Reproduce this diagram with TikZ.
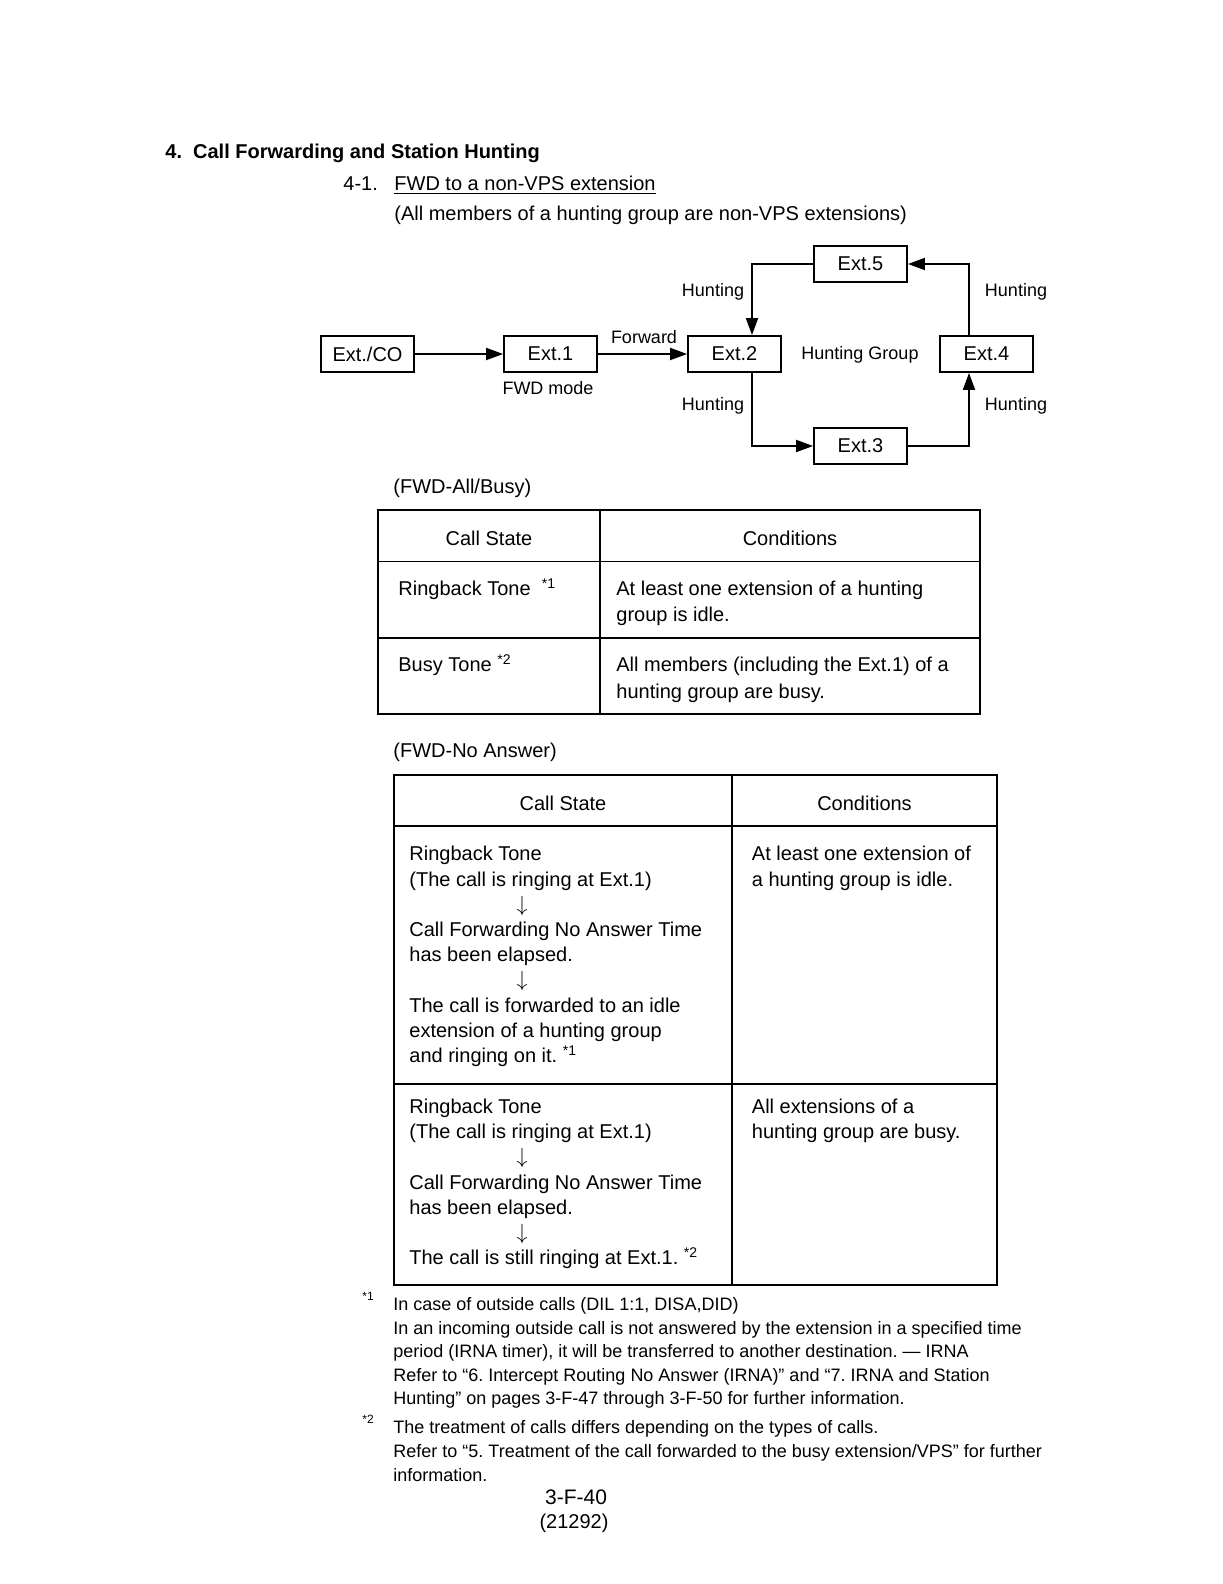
\documentclass[tikz,border=0pt]{standalone}
\usepackage{fontspec}
\setmainfont{Liberation Sans}
\usetikzlibrary{arrows.meta,positioning,calc}
\frenchspacing

\tikzset{
  extbox/.style={draw,line width=0.9pt,minimum width=46.5pt,minimum height=18pt,inner sep=0pt,font=\fontsize{10}{12}\selectfont},
  lbl/.style={inner sep=0pt,font=\fontsize{9}{11}\selectfont},
  txt/.style={inner sep=0pt,anchor=west,text height=7.5pt,text depth=2pt,font=\fontsize{10}{12}\selectfont},
  note/.style={txt,font=\fontsize{9}{11}\selectfont},
  flow/.style={line width=0.9pt,-{Triangle[length=8.5pt,width=6pt]}},
  rule/.style={line width=0.8pt}
}

\begin{document}
\begin{tikzpicture}[x=0.5pt,y=-0.5pt]
  \useasboundingbox (0,0) rectangle (1222,1584); % ページ全体の大きさ（px単位）

  % 見出し
  \node[txt,font=\fontsize{10}{12}\selectfont\bfseries] (title) at (165,153) {4.\ \ Call Forwarding and Station Hunting};
  \node[txt] (secno) at (343,185) {4-1.};
  \node[txt] (sec) at (394,185) {\underline{FWD to a non-VPS extension}};
  \node[txt] (secnote) at (394,215) {(All members of a hunting group are non-VPS extensions)};

  % 転送とハンティングの図
  \node[extbox] (extco) at (367.5,354) {Ext./CO};
  \node[extbox] (ext1) at (550.5,354) {Ext.1};
  \node[extbox] (ext2) at (734.5,354) {Ext.2};
  \node[extbox] (ext4) at (986.5,354) {Ext.4};
  \node[extbox] (ext5) at (860.5,264) {Ext.5};
  \node[extbox] (ext3) at (860.5,446) {Ext.3};
  \coordinate (lft) at (752,0); % 左側の縦線の位置
  \coordinate (rgt) at (969,0); % 右側の縦線の位置
  \draw[flow] (extco) -- (ext1);
  \draw[flow] (ext1) -- (ext2);
  \draw[flow] (ext5.west) -| (ext2.north -| lft);
  \draw[flow] (ext2.south -| lft) |- (ext3.west);
  \draw[flow] (ext3.east) -| (ext4.south -| rgt);
  \draw[flow] (ext4.north -| rgt) |- (ext5.east);
  \node[lbl] (fwd) at (644,337) {Forward};
  \node[lbl] (fwdmode) at (548,388) {FWD mode};
  \node[lbl] (hg) at (860,355) {Hunting Group};
  \node[lbl] (h1) at (713,292) {Hunting};
  \node[lbl] (h2) at (713,406) {Hunting};
  \node[lbl] (h3) at (1016,292) {Hunting};
  \node[lbl] (h4) at (1016,406) {Hunting};

  % 表1 (FWD-All/Busy)
  \node[txt] (cap1) at (393,488) {(FWD-All/Busy)};
  \draw[rule] (378,510) rectangle (980,714);
  \draw[rule] (378,561.5) -- (980,561.5);
  \draw[rule] (378,638) -- (980,638);
  \draw[rule] (600,510) -- (600,714);
  \node[txt,anchor=center] (hd1a) at (489,540) {Call State};
  \node[txt,anchor=center] (hd1b) at (790,540) {Conditions};
  \node[txt] (r1a) at (398,590) {Ringback Tone \ \textsuperscript{*1}};
  \node[txt] (r2a) at (398,666) {Busy Tone \textsuperscript{*2}};
  \node[txt] (r1b) at (616,590) {At least one extension of a hunting};
  \node[txt] (r1c) at (616,616) {group is idle.};
  \node[txt] (r2b) at (616,666) {All members (including the Ext.1) of a};
  \node[txt] (r2c) at (616,693) {hunting group are busy.};

  % 表2 (FWD-No Answer)
  \node[txt] (cap2) at (393,752) {(FWD-No Answer)};
  \draw[rule] (394,775) rectangle (997,1285);
  \draw[rule] (394,826) -- (997,826);
  \draw[rule] (394,1084) -- (997,1084);
  \draw[rule] (732,775) -- (732,1285);
  \node[txt,anchor=center] (hd2a) at (563,805) {Call State};
  \node[txt,anchor=center] (hd2b) at (864.5,805) {Conditions};
  \foreach \yy/\txt [count=\i] in {855/{Ringback Tone}, 881/{(The call is ringing at Ext.1)},
      931/{Call Forwarding No Answer Time}, 956/{has been elapsed.},
      1007/{The call is forwarded to an idle}, 1032/{extension of a hunting group},
      1057/{and ringing on it. \textsuperscript{*1}}}
    \node[txt] (sa-\i) at (409,\yy) {\txt};
  \foreach \yy/\txt [count=\i] in {1108/{Ringback Tone}, 1133/{(The call is ringing at Ext.1)},
      1184/{Call Forwarding No Answer Time}, 1209/{has been elapsed.},
      1259/{The call is still ringing at Ext.1. \textsuperscript{*2}}}
    \node[txt] (sb-\i) at (409,\yy) {\txt};
  \foreach \yy [count=\i] in {906,981,1158,1234}
    \node[inner sep=0pt] (dn-\i) at (522,\yy) {\fontsize{10.5}{10.5}\selectfont$\downarrow$}; % 状態の移り変わりを示す矢印
  \node[txt] (ca-1) at (751.5,855) {At least one extension of};
  \node[txt] (ca-2) at (751.5,881) {a hunting group is idle.};
  \node[txt] (cb-1) at (751.5,1108) {All extensions of a};
  \node[txt] (cb-2) at (751.5,1133) {hunting group are busy.};

  % 注記
  \node[note] (m1) at (362,1303) {\textsuperscript{*1}};
  \foreach \yy/\txt [count=\i] in {1305/{In case of outside calls (DIL 1:1, DISA,DID)},
      1329/{In an incoming outside call is not answered by the extension in a specified time},
      1352/{period (IRNA timer), it will be transferred to another destination. --- IRNA},
      1376/{Refer to ``6. Intercept Routing No Answer (IRNA)'' and ``7. IRNA and Station},
      1399/{Hunting'' on pages 3-F-47 through 3-F-50 for further information.}}
    \node[note] (na-\i) at (393,\yy) {\txt};
  \node[note] (m2) at (362,1426) {\textsuperscript{*2}};
  \foreach \yy/\txt [count=\i] in {1428/{The treatment of calls differs depending on the types of calls.},
      1452/{Refer to ``5. Treatment of the call forwarded to the busy extension/VPS'' for further},
      1476/{information.}}
    \node[note] (nb-\i) at (393,\yy) {\txt};
  \node[txt,anchor=center,font=\fontsize{10.5}{12}\selectfont] (pg) at (576,1499) {3-F-40};
  \node[txt,anchor=center] (rev) at (574,1523) {(21292)};
\end{tikzpicture}
\end{document}
